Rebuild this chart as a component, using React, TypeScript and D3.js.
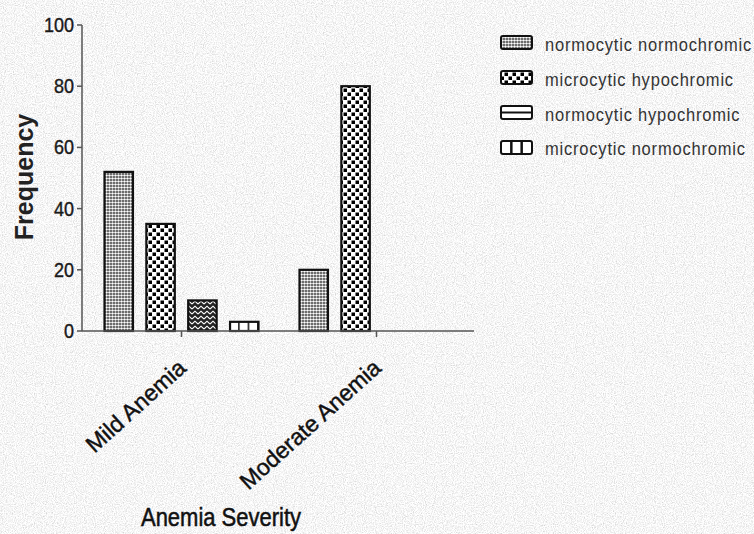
import { useLayoutEffect } from 'react';
import * as d3 from 'd3';

const groups = ['Mild Anemia', 'Moderate Anemia'];
const seriesNames = [
  'normocytic normochromic',
  'microcytic hypochromic',
  'normocytic hypochromic',
  'microcytic normochromic',
];
const mildValues = [52, 35, 10, 3];
const moderateValues = [20, 80, 0, 0];
const yTicks = [0, 20, 40, 60, 80, 100];

const W = 754;
const H = 534;
const SY = 1.15; // the source image is slightly stretched vertically
const font = '"Liberation Sans", Arial, sans-serif';

const yScale = d3.scaleLinear().domain([0, 100]).range([331, 25]);
const xScale = d3.scaleBand().domain(groups).range([84, 474]);
const inner = d3
  .scaleBand()
  .domain(seriesNames)
  .range([0, xScale.bandwidth()])
  .paddingInner(0.32)
  .paddingOuter(0.49);

const valuesByGroup: { [k: string]: number[] } = {
  'Mild Anemia': mildValues,
  'Moderate Anemia': moderateValues,
};

const fills = ['url(#pFine)', 'url(#pChecker)', 'url(#pZig)', 'url(#pVert)'];

const Txt = ({ x, y, rot = 0, sy = SY, children, ...rest }: any) => (
  <text transform={`translate(${x},${y}) scale(1,${sy}) rotate(${rot})`} {...rest}>
    {children}
  </text>
);

export default function App() {
  useLayoutEffect(() => {
    document.body.style.margin = '0';
  }, []);

  const bw = inner.bandwidth();
  const x0 = xScale.range()[0] - 2;
  const x1 = xScale.range()[1];
  const y0 = yScale(0);

  return (
    <svg width={W} height={H} style={{ display: 'block' }} fontFamily={font}>
      <defs>
        <filter id="noise" x="0" y="0" width="100%" height="100%">
          <feTurbulence type="fractalNoise" baseFrequency="0.9" numOctaves="2" seed="4" />
          <feColorMatrix
            type="matrix"
            values="0.7 0 0 0 0.57  0.7 0 0 0 0.57  0.7 0 0 0 0.57  0 0 0 0 1"
          />
        </filter>
        <pattern id="pFine" patternUnits="userSpaceOnUse" width="3" height="3">
          <rect width="3" height="3" fill="#2a2a2a" />
          <circle cx="1.5" cy="1.5" r="1.3" fill="#fff" />
        </pattern>
        <pattern id="pChecker" patternUnits="userSpaceOnUse" width="8" height="8">
          <rect width="8" height="8" fill="#fff" />
          <rect x="0.5" y="0.5" width="3.5" height="3.5" fill="#000" />
          <rect x="4.5" y="4.5" width="3.5" height="3.5" fill="#000" />
        </pattern>
        <pattern id="pZig" patternUnits="userSpaceOnUse" width="6" height="5">
          <rect width="6" height="5" fill="#222" />
          <path d="M0,4 L3,1.2 L6,4" stroke="#fff" strokeWidth="1.1" fill="none" />
        </pattern>
        {groups.map((g, gi) => (
          <pattern
            key={g}
            id={`pVert-${gi}`}
            patternUnits="userSpaceOnUse"
            x={(xScale(g) ?? 0) + (inner(seriesNames[3]) ?? 0)}
            width={bw / 3}
            height="10"
          >
            <rect width={bw / 3} height="10" fill="#fff" />
            <line x1="0" x2="0" y1="0" y2="10" stroke="#111" strokeWidth="3" />
          </pattern>
        ))}
      </defs>

      <rect width={W} height={H} filter="url(#noise)" />

      {/* bars */}
      {groups.map((g, gi) => (
        <g key={g} transform={`translate(${xScale(g)},0)`}>
          {valuesByGroup[g].map((v, i) =>
            v > 0 ? (
              <rect
                key={i}
                x={inner(seriesNames[i])}
                y={yScale(v)}
                width={bw}
                height={y0 - yScale(v)}
                fill={i === 3 ? `url(#pVert-${gi})` : fills[i]}
                stroke="#111"
                strokeWidth="2.2"
              />
            ) : null
          )}
        </g>
      ))}

      {/* y axis */}
      <line x1={x0} x2={x0} y1={yScale(100)} y2={y0} stroke="#555" strokeWidth="1.5" />
      {yTicks.map((t) => (
        <g key={t}>
          <line x1={x0 - 5} x2={x0} y1={yScale(t)} y2={yScale(t)} stroke="#555" strokeWidth="1.5" />
          <Txt
            x={x0 - 8}
            y={yScale(t) + 7}
            textAnchor="end"
            fontSize="18"
            fill="#1a1a1a"
            stroke="#1a1a1a"
            strokeWidth="0.35"
          >
            {t}
          </Txt>
        </g>
      ))}
      <Txt x={33} y={177} rot={-90} sy={1} textAnchor="middle" fontSize="25" fontWeight="bold" fill="#222">
        Frequency
      </Txt>

      {/* x axis */}
      <line x1={x0} x2={x1} y1={y0} y2={y0} stroke="#555" strokeWidth="1.5" />
      {groups.map((g) => {
        const cx = (xScale(g) ?? 0) + xScale.bandwidth() / 2;
        return (
          <g key={g}>
            <line x1={cx} x2={cx} y1={y0} y2={y0 + 6} stroke="#555" strokeWidth="1.5" />
            <Txt
              x={cx + 6}
              y={370}
              rot={-42}
              sy={1}
              textAnchor="end"
              fontSize="23"
              fill="#111"
              stroke="#111"
              strokeWidth="0.45"
            >
              {g}
            </Txt>
          </g>
        );
      })}
      <Txt x={221} y={526} textAnchor="middle" fontSize="22" fill="#111" stroke="#111" strokeWidth="0.45">
        Anemia Severity
      </Txt>

      {/* legend */}
      {seriesNames.map((s, i) => {
        const top = 36 + i * 35;
        return (
          <g key={s}>
            <rect
              x={501}
              y={top}
              width={31}
              height={13}
              rx={2}
              fill={i === 0 ? 'url(#pFine)' : i === 1 ? 'url(#pChecker)' : '#fff'}
              stroke="#111"
              strokeWidth="2"
            />
            {i === 2 && <line x1={501} x2={532} y1={top + 6.5} y2={top + 6.5} stroke="#111" strokeWidth="2" />}
            {i === 3 &&
              [1, 2].map((k) => (
                <line
                  key={k}
                  x1={501 + (31 * k) / 3}
                  x2={501 + (31 * k) / 3}
                  y1={top}
                  y2={top + 13}
                  stroke="#111"
                  strokeWidth="2.5"
                />
              ))}
            <Txt x={545} y={51 + i * 34.8} fontSize="16.5" letterSpacing="0.8" fill="#333">
              {s}
            </Txt>
          </g>
        );
      })}
    </svg>
  );
}
